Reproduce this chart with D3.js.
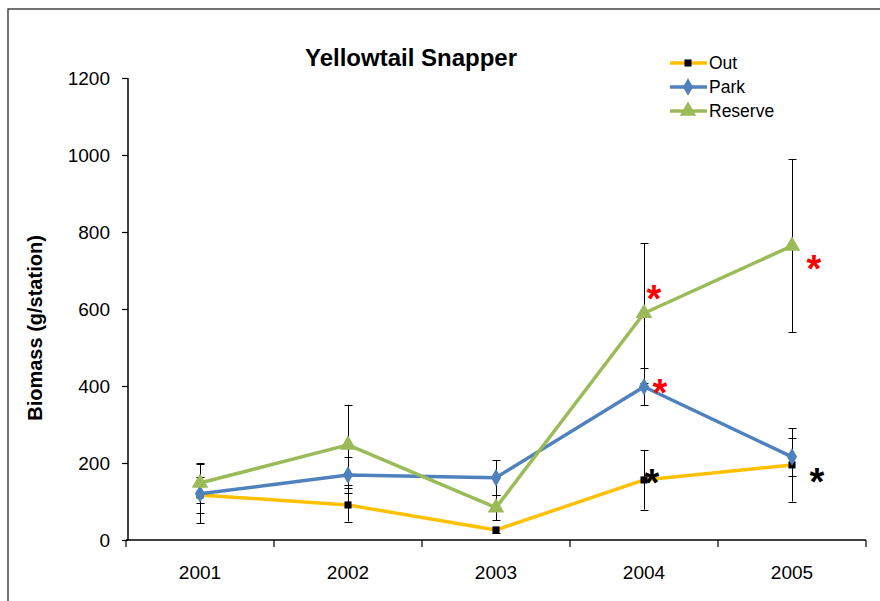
<!DOCTYPE html>
<html>
<head>
<meta charset="utf-8">
<script src="https://cdn.jsdelivr.net/npm/d3@7"></script>
<style>
  body { margin: 0; background: #fff; }
  text { font-family: "Liberation Sans", Arial, sans-serif; }
</style>
</head>
<body>
<div id="chart"></div>
<script>
// Data
const years = ["2001", "2002", "2003", "2004", "2005"];
const outValues = [117, 91, 26, 156, 195];
const outErrors = [46, 43, 8, 77, 95];
const parkValues = [120, 169, 162, 398, 216];
const parkErrors = [77, 47, 46, 48, 49];
const reserveValues = [148, 247, 84, 589, 764];
const reserveErrors = [52, 104, 33, 182, 225];
const yTicks = [0, 200, 400, 600, 800, 1000, 1200];

// significance marks: [year, value, colour]
const stars = [
  ["2004", 641, "red"], ["2004", 397, "red"], ["2005", 719, "red"],
  ["2004", 164, "black"], ["2005", 166, "black"]
];

const series = [
  { name: "Out", color: "#FFC000", symbol: d3.symbolSquare, size: 50, values: outValues, errors: outErrors },
  { name: "Park", color: "#4F81BD", symbol: d3.symbolDiamond, size: 90, values: parkValues, errors: parkErrors },
  { name: "Reserve", color: "#9BBB59", symbol: d3.symbolTriangle, size: 120, values: reserveValues, errors: reserveErrors }
];

const width = 880, height = 601;
const margin = { left: 128, right: 14, top: 78, bottom: 61 };

const svg = d3.select("#chart").append("svg")
  .attr("width", width)
  .attr("height", height);

// outer frame
svg.append("rect")
  .attr("x", 8).attr("y", 9)
  .attr("width", width + 10).attr("height", height + 10)
  .attr("fill", "none")
  .attr("stroke", "#444")
  .attr("stroke-width", 1.5);

const x = d3.scaleBand()
  .domain(years)
  .range([margin.left - 2, width - margin.right]);

const y = d3.scaleLinear()
  .domain([0, 1200])
  .range([height - margin.bottom, margin.top]);

const cx = d => x(d) + x.bandwidth() / 2;

// y axis
const yAxis = svg.append("g")
  .attr("transform", `translate(${margin.left},0)`)
  .call(d3.axisLeft(y).tickValues(yTicks).tickFormat(d3.format("d")).tickSize(6).tickPadding(12));
yAxis.select(".domain").attr("stroke-width", 1.5).attr("d", `M0,${y(0)}V${y(1200)}`);
yAxis.selectAll(".tick line").attr("stroke-width", 1.2);
yAxis.selectAll("text").attr("font-size", 19).attr("fill", "#000");

// x axis, ticks between categories
const xAxis = svg.append("g")
  .attr("transform", `translate(0,${y(0)})`);
xAxis.append("path")
  .attr("d", `M${x.range()[0]},0H${x.range()[1]}`)
  .attr("stroke", "#000").attr("stroke-width", 1.5);
const bounds = years.map(d => x(d)).concat([x.range()[1]]);
xAxis.selectAll("line.tk").data(bounds).join("line")
  .attr("x1", d => d).attr("x2", d => d)
  .attr("y1", 0).attr("y2", 7)
  .attr("stroke", "#000").attr("stroke-width", 1.2);
xAxis.selectAll("text").data(years).join("text")
  .attr("x", cx).attr("y", 39)
  .attr("text-anchor", "middle")
  .attr("font-size", 19)
  .text(d => d);

// y label
svg.append("text")
  .attr("transform", "translate(42,328) rotate(-90)")
  .attr("text-anchor", "middle")
  .attr("font-size", 20)
  .attr("font-weight", "bold")
  .text("Biomass (g/station)");

// title
svg.append("text")
  .attr("x", 411).attr("y", 66)
  .attr("text-anchor", "middle")
  .attr("font-size", 24)
  .attr("font-weight", "bold")
  .text("Yellowtail Snapper");

// error bars (half-pixel offset keeps the 1px lines crisp)
series.forEach(s => {
  const g = svg.append("g");
  years.forEach((yr, i) => {
    const v = s.values[i], e = s.errors[i];
    const xx = Math.round(cx(yr)) + 0.5;
    g.append("line")
      .attr("x1", xx).attr("x2", xx)
      .attr("y1", y(v + e)).attr("y2", y(Math.max(0, v - e)))
      .attr("stroke", "#000").attr("stroke-width", 1);
    [v + e, v - e].forEach(c => {
      const yy = Math.round(y(c)) + 0.5;
      g.append("line")
        .attr("x1", xx - 4).attr("x2", xx + 4)
        .attr("y1", yy).attr("y2", yy)
        .attr("stroke", "#000").attr("stroke-width", 1);
    });
  });
});

// lines and markers
const line = d3.line()
  .x((d, i) => cx(years[i]))
  .y(d => y(d));

series.forEach(s => {
  svg.append("path")
    .datum(s.values)
    .attr("d", line)
    .attr("fill", "none")
    .attr("stroke", s.color)
    .attr("stroke-width", 3.5)
    .attr("stroke-linejoin", "round");
  svg.selectAll(null).data(s.values).join("path")
    .attr("transform", (d, i) => `translate(${cx(years[i])},${y(d)})`)
    .attr("d", d3.symbol(s.symbol, s.size))
    .attr("fill", s.name === "Out" ? "#000" : s.color);
});

// significance stars (nudged right of the point)
const starDx = [10, 16, 22, 8, 25];
svg.selectAll("text.star").data(stars).join("text")
  .attr("class", "star")
  .attr("x", (d, i) => cx(d[0]) + starDx[i])
  .attr("y", d => y(d[1]) + 19)
  .attr("text-anchor", "middle")
  .attr("font-size", 38)
  .attr("font-weight", "bold")
  .attr("fill", d => d[2])
  .text("*");

// legend
const legend = svg.append("g").attr("transform", "translate(670,63)");
series.forEach((s, i) => {
  const g = legend.append("g").attr("transform", `translate(0,${i * 24})`);
  g.append("line")
    .attr("x1", 0).attr("x2", 37)
    .attr("stroke", s.color).attr("stroke-width", 3.5);
  g.append("path")
    .attr("transform", "translate(18,0)")
    .attr("d", d3.symbol(s.symbol, s.size))
    .attr("fill", s.name === "Out" ? "#000" : s.color);
  g.append("text")
    .attr("x", 39).attr("y", 6)
    .attr("font-size", 17.5)
    .text(s.name);
});
</script>
</body>
</html>
